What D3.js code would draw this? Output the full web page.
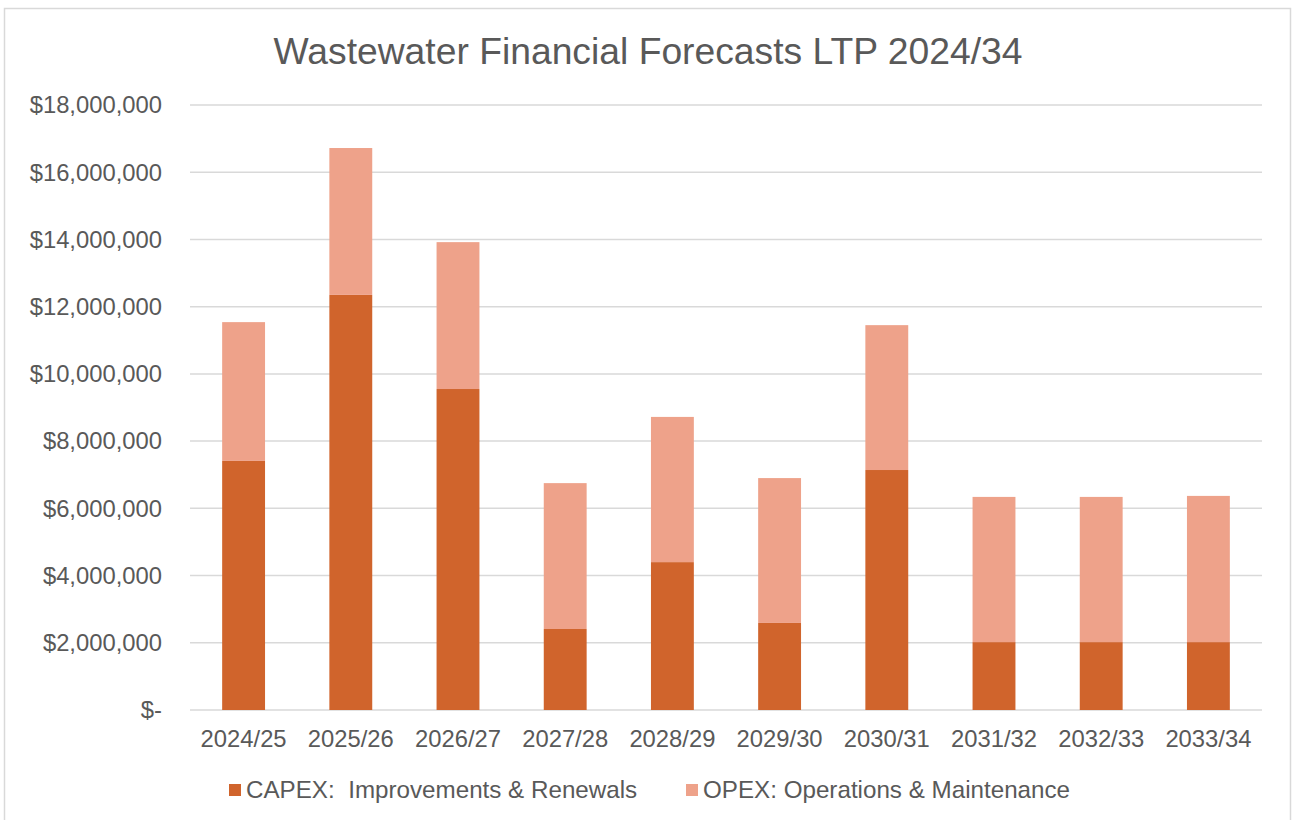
<!DOCTYPE html>
<html>
<head>
<meta charset="utf-8">
<script src="https://cdn.jsdelivr.net/npm/d3@7"></script>
<style>
  body { margin: 0; background: #fff; }
  text { font-family: "Liberation Sans", Arial, sans-serif; fill: #595959; white-space: pre; }
</style>
</head>
<body>
<svg id="chart" width="1295" height="820"></svg>
<script>
const years = ["2024/25", "2025/26", "2026/27", "2027/28", "2028/29", "2029/30", "2030/31", "2031/32", "2032/33", "2033/34"];
const capex = [7410000, 12350000, 9550000, 2410000, 4400000, 2590000, 7140000, 2020000, 2020000, 2020000];
const opex = [4130000, 4370000, 4370000, 4340000, 4320000, 4310000, 4310000, 4320000, 4320000, 4350000];
const yTicks = [0, 2000000, 4000000, 6000000, 8000000, 10000000, 12000000, 14000000, 16000000, 18000000];
const seriesNames = ["CAPEX:  Improvements & Renewals", "OPEX: Operations & Maintenance"];
const seriesColors = ["#d0642c", "#eea28a"];

const svg = d3.select("#chart");
const width = +svg.attr("width");
const height = +svg.attr("height");
const fontSize = "23.8px";

// outer chart border
svg.append("rect")
    .attr("x", 4.5).attr("y", 8.5)
    .attr("width", 1286).attr("height", 820)
    .attr("fill", "none")
    .attr("stroke", "#d9d9d9")
    .attr("stroke-width", 1.5);

const margin = { left: 190, right: 1262, top: 105, bottom: 710 };

const x = d3.scaleBand()
    .domain(years)
    .range([margin.left, margin.right])
    .paddingInner(0.6)
    .paddingOuter(0.3);

const y = d3.scaleLinear()
    .domain([0, 18000000])
    .range([margin.bottom, margin.top]);

// gridlines
svg.append("g")
    .selectAll("line")
    .data(yTicks)
    .enter().append("line")
    .attr("x1", margin.left).attr("x2", margin.right)
    .attr("y1", d => y(d)).attr("y2", d => y(d))
    .attr("stroke", "#d9d9d9")
    .attr("stroke-width", 1.5);

// y labels
const fmt = d3.format(",");
svg.append("g")
    .selectAll("text")
    .data(yTicks)
    .enter().append("text")
    .attr("x", 162)
    .attr("y", d => y(d))
    .attr("dy", "0.35em")
    .attr("text-anchor", "end")
    .style("font-size", fontSize)
    .text(d => d === 0 ? "$-" : "$" + fmt(d));

// stacked data
const rows = years.map((yr, i) => ({ year: yr, capex: capex[i], opex: opex[i] }));
const stack = d3.stack().keys(["capex", "opex"])(rows);

svg.append("g")
    .selectAll("g")
    .data(stack)
    .enter().append("g")
    .attr("fill", (d, i) => seriesColors[i])
    .selectAll("rect")
    .data(d => d)
    .enter().append("rect")
    .attr("x", d => x(d.data.year))
    .attr("y", d => y(d[1]))
    .attr("width", x.bandwidth())
    .attr("height", d => y(d[0]) - y(d[1]));

// category labels
svg.append("g")
    .selectAll("text")
    .data(years)
    .enter().append("text")
    .attr("x", d => x(d) + x.bandwidth() / 2)
    .attr("y", 747)
    .attr("text-anchor", "middle")
    .style("font-size", fontSize)
    .text(d => d);

// title
svg.append("text")
    .attr("x", 648)
    .attr("y", 64)
    .attr("text-anchor", "middle")
    .style("font-size", "36px")
    .attr("textLength", 749)
    .attr("lengthAdjust", "spacingAndGlyphs")
    .text("Wastewater Financial Forecasts LTP 2024/34");

// legend
const legendX = [229, 686];
const legend = svg.append("g")
    .selectAll("g")
    .data(seriesNames)
    .enter().append("g")
    .attr("transform", (d, i) => `translate(${legendX[i]},0)`);

legend.append("rect")
    .attr("x", 0).attr("y", 784)
    .attr("width", 12).attr("height", 12)
    .attr("fill", (d, i) => seriesColors[i]);

legend.append("text")
    .attr("x", 17)
    .attr("y", 798)
    .style("font-size", "24.2px")
    .text(d => d);
</script>
</body>
</html>
